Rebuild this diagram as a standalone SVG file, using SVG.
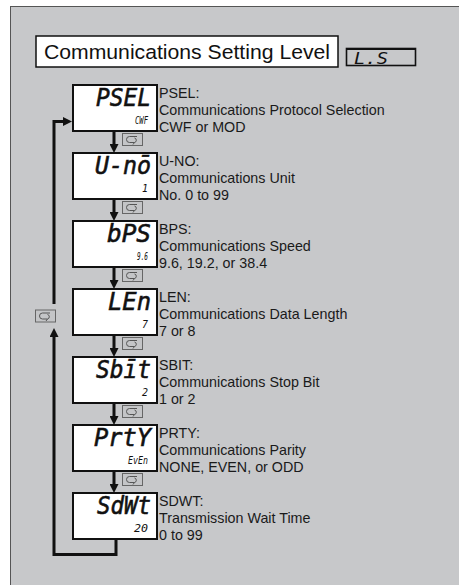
<svg xmlns="http://www.w3.org/2000/svg" width="459" height="585" viewBox="0 0 459 585">
<defs>
<style>
.panel{fill:#c7c8ca;stroke:#555;stroke-width:1}
.box{fill:#fff;stroke:#111;stroke-width:2}
.seg{font-family:"DejaVu Sans Mono",monospace;font-style:oblique;font-weight:normal;font-size:25px;fill:#111;text-anchor:end;stroke:#111;stroke-width:0.6}
.val{font-family:"DejaVu Sans Mono",monospace;font-style:oblique;font-size:10px;fill:#111;text-anchor:end}
.lbl{font-family:"Liberation Sans",Arial,sans-serif;font-size:14.3px;fill:#1a1a1a}
.wire{fill:none;stroke:#111;stroke-width:3;stroke-linejoin:miter}
.icon{fill:#c4c5c7;stroke:#666;stroke-width:1}
.iconsym{fill:none;stroke:#555;stroke-width:1}
</style>
<marker id="ah" markerUnits="userSpaceOnUse" markerWidth="9" markerHeight="9" viewBox="0 0 9 9" refX="2" refY="4.5" orient="auto">
<path d="M0,0 L9,4.5 L0,9 z" fill="#111"/>
</marker>
<symbol id="loop" viewBox="0 0 21 13">
<rect class="icon" x="0.5" y="0.5" width="20" height="12"/>
<path class="iconsym" d="M15,3.5 H7.5 A3,3 0 0 0 7.5,9.5 H12.5 A2.3,2.3 0 0 0 12.5,5 M12.5,9.5 L11,11.5"/>
</symbol>
</defs>
<rect x="10.5" y="6.5" width="460" height="590" class="panel"/>

<g id="title">
<rect x="36" y="36" width="302" height="31" fill="#fff" stroke="#111" stroke-width="1.5"/>
<text x="44" y="58.5" font-family="Liberation Sans, Arial, sans-serif" font-size="20.5" fill="#111" textLength="286" lengthAdjust="spacingAndGlyphs">Communications Setting Level</text>
</g>
<g id="level-indicator">
<rect x="346.5" y="48.5" width="69" height="17" fill="none" stroke="#111" stroke-width="1.6"/>
<line x1="346" y1="49" x2="416" y2="49" stroke="#111" stroke-width="2"/>
<text x="354" y="63.5" font-family="DejaVu Sans Mono, monospace" font-style="oblique" font-size="15" fill="#111" textLength="34" lengthAdjust="spacingAndGlyphs">L.S</text>
</g>

<g id="connectors">
<line class="wire" x1="114" y1="132" x2="114" y2="146" marker-end="url(#ah)"/>
<line class="wire" x1="114" y1="200" x2="114" y2="214" marker-end="url(#ah)"/>
<line class="wire" x1="114" y1="268" x2="114" y2="282" marker-end="url(#ah)"/>
<line class="wire" x1="114" y1="336" x2="114" y2="350" marker-end="url(#ah)"/>
<line class="wire" x1="114" y1="404" x2="114" y2="418" marker-end="url(#ah)"/>
<line class="wire" x1="114" y1="472" x2="114" y2="486" marker-end="url(#ah)"/>
<path class="wire" d="M116,538 V554.5 H54 V335" marker-end="url(#ah)"/>
<path class="wire" d="M54,304 V121.5 H65" marker-end="url(#ah)"/>
<use href="#loop" x="122" y="133" width="21" height="13"/>
<use href="#loop" x="122" y="201" width="21" height="13"/>
<use href="#loop" x="122" y="269" width="21" height="13"/>
<use href="#loop" x="122" y="337" width="21" height="13"/>
<use href="#loop" x="122" y="405" width="21" height="13"/>
<use href="#loop" x="122" y="473" width="21" height="13"/>
<use href="#loop" x="35" y="309" width="21" height="14"/>
</g>

<g id="psel">
<rect class="box" x="73" y="85" width="84" height="46"/>
<text class="seg" x="151" y="106" textLength="55" lengthAdjust="spacingAndGlyphs">PSEL</text>
<text class="val" x="148" y="124" textLength="13" lengthAdjust="spacingAndGlyphs">CWF</text>
<text class="lbl" x="159" y="98">PSEL:</text>
<text class="lbl" x="159" y="115">Communications Protocol Selection</text>
<text class="lbl" x="159" y="132">CWF or MOD</text>
</g>
<g id="u-no">
<rect class="box" x="73" y="153" width="84" height="46"/>
<text class="seg" x="151" y="174" textLength="56" lengthAdjust="spacingAndGlyphs">U-nō</text>
<text class="val" x="148" y="192">1</text>
<text class="lbl" x="159" y="166">U-NO:</text>
<text class="lbl" x="159" y="183">Communications Unit</text>
<text class="lbl" x="159" y="200">No. 0 to 99</text>
</g>
<g id="bps">
<rect class="box" x="73" y="221" width="84" height="46"/>
<text class="seg" x="151" y="242" textLength="44" lengthAdjust="spacingAndGlyphs">bPS</text>
<text class="val" x="148" y="260" textLength="11" lengthAdjust="spacingAndGlyphs">9.6</text>
<text class="lbl" x="159" y="234">BPS:</text>
<text class="lbl" x="159" y="251">Communications Speed</text>
<text class="lbl" x="159" y="268">9.6, 19.2, or 38.4</text>
</g>
<g id="len">
<rect class="box" x="73" y="289" width="84" height="46"/>
<text class="seg" x="151" y="310" textLength="43" lengthAdjust="spacingAndGlyphs">LEn</text>
<text class="val" x="148" y="328">7</text>
<text class="lbl" x="159" y="302">LEN:</text>
<text class="lbl" x="159" y="319">Communications Data Length</text>
<text class="lbl" x="159" y="336">7 or 8</text>
</g>
<g id="sbit">
<rect class="box" x="73" y="357" width="84" height="46"/>
<text class="seg" x="151" y="378" textLength="55" lengthAdjust="spacingAndGlyphs">Sbīt</text>
<text class="val" x="148" y="396">2</text>
<text class="lbl" x="159" y="370">SBIT:</text>
<text class="lbl" x="159" y="387">Communications Stop Bit</text>
<text class="lbl" x="159" y="404">1 or 2</text>
</g>
<g id="prty">
<rect class="box" x="73" y="425" width="84" height="46"/>
<text class="seg" x="151" y="446" textLength="57" lengthAdjust="spacingAndGlyphs">PrtY</text>
<text class="val" x="148" y="464" textLength="20" lengthAdjust="spacingAndGlyphs">EvEn</text>
<text class="lbl" x="159" y="438">PRTY:</text>
<text class="lbl" x="159" y="455">Communications Parity</text>
<text class="lbl" x="159" y="472">NONE, EVEN, or ODD</text>
</g>
<g id="sdwt">
<rect class="box" x="73" y="493" width="84" height="46"/>
<text class="seg" x="151" y="514" textLength="54" lengthAdjust="spacingAndGlyphs">SdWt</text>
<text class="val" x="148" y="532" textLength="14" lengthAdjust="spacingAndGlyphs">20</text>
<text class="lbl" x="159" y="506">SDWT:</text>
<text class="lbl" x="159" y="523">Transmission Wait Time</text>
<text class="lbl" x="159" y="540">0 to 99</text>
</g>
</svg>
